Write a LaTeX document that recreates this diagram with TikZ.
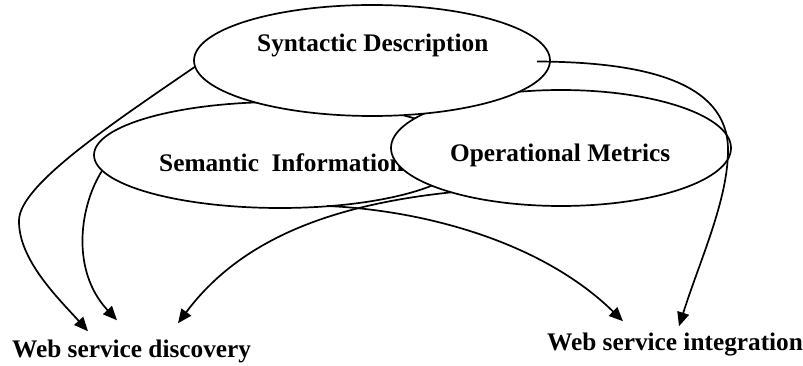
\documentclass[tikz,border=0pt]{standalone}
\usepackage{fontspec}
\setmainfont{Liberation Serif}
\usetikzlibrary{shapes.geometric,arrows.meta,calc}
\begin{document}
\begin{tikzpicture}[x=1pt,y=-1pt,
  bubble/.style={ellipse,draw,fill=white,line width=1.7pt,inner sep=0pt,outer sep=0pt},
  caption/.style={font=\fontsize{25.3}{30}\selectfont\bfseries,inner sep=0pt,anchor=base west},
  flow/.style={line width=1.7pt,-{Triangle[length=14pt,width=12pt]}}]
\useasboundingbox (0,0) rectangle (803,366);

% the three description sources, back to front
\node[bubble,minimum width=372pt,minimum height=106pt] (sem) at (280,155) {};
\node[caption] (semt) at (159,172) {Semantic\ \ Information};
\node[bubble,minimum width=340pt,minimum height=116pt] (op) at (561,148) {};
\node[caption] (opt) at (450,162) {Operational Metrics};
\node[bubble,minimum width=356pt,minimum height=111pt] (syn) at (372,60.5) {};
\node[caption] (synt) at (257,52) {Syntactic Description};

% the two targets
\node[caption] (disc) at (12,357) {Web service discovery};
\node[caption] (integ) at (547,350) {Web service integration};

% arrow tips just above the target labels
\coordinate (d1) at ($(disc.north west)+(76,-8)$);
\coordinate (d2) at ($(disc.north west)+(105,-19)$);
\coordinate (d3) at ($(disc.north west)+(166,-16)$);
\coordinate (i1) at ($(integ.north west)+(76,-11)$);
\coordinate (i2) at ($(integ.north west)+(132,-6)$);

% connectors
\draw[flow] (syn.182) .. controls (110,125) and (20,185) .. (19,220)
  .. controls (18,260) and (60,300) .. (d1);
\draw[flow] (sem.185) .. controls (80,205) and (70,270) .. (d2);
\draw[flow] (op.202) .. controls (330,205) and (240,240) .. (d3);
\draw[flow] ($(sem.south)+(47,-2)$) .. controls (420,210) and (540,240) .. (i1);
\draw[flow] ($(syn.east)+(-13,1)$) .. controls (640,62) and (728,80) .. (728,150)
  .. controls (728,200) and (700,260) .. (i2);
\end{tikzpicture}
\end{document}
